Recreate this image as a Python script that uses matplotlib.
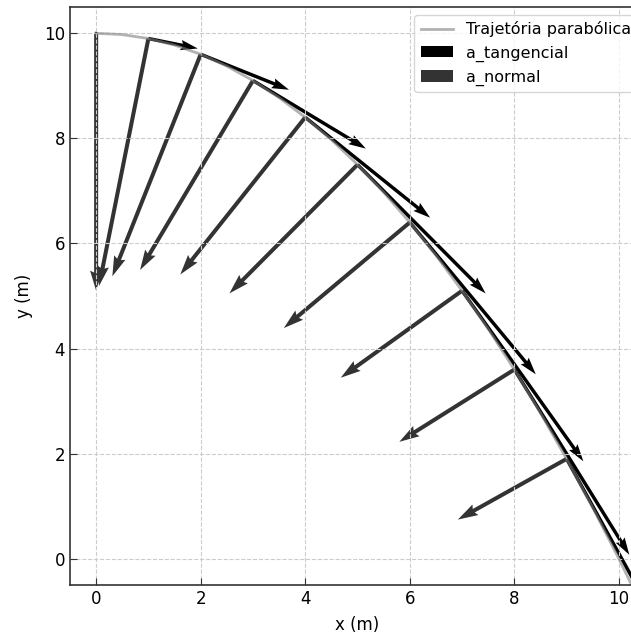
import numpy as np
import matplotlib
matplotlib.use('Agg')
import matplotlib.pyplot as plt

# trajectory (x in m, y in m)
curve_x = [0, 0.5, 1, 1.5, 2, 2.5, 3, 3.5, 4, 4.5, 5, 5.5, 6, 6.5, 7, 7.5, 8, 8.5, 9, 9.5, 10, 10.5]
curve_y = [10, 9.975, 9.9, 9.775, 9.6, 9.375, 9.1, 8.775, 8.4, 7.975, 7.5, 6.975, 6.4, 5.775,
           5.1, 4.375, 3.6, 2.775, 1.9, 0.975, 0, -1.025]

# points where the acceleration is decomposed
pts_x = [0, 1, 2, 3, 4, 5, 6, 7, 8, 9]
pts_y = [10, 9.9, 9.6, 9.1, 8.4, 7.5, 6.4, 5.1, 3.6, 1.9]

# tangential / normal components (m/s^2)
at_x = [0, 1.89, 3.38, 4.32, 4.78, 4.90, 4.82, 4.64, 4.40, 4.16]
at_y = [0, -0.38, -1.35, -2.59, -3.82, -4.90, -5.78, -6.49, -7.05, -7.49]
an_x = [0, -1.89, -3.38, -4.32, -4.78, -4.90, -4.82, -4.64, -4.40, -4.16]
an_y = [-9.8, -9.42, -8.45, -7.21, -5.98, -4.90, -4.02, -3.31, -2.75, -2.31]

plt.rcParams['font.family'] = 'DejaVu Sans'

fig = plt.figure(figsize=(6.31, 6.35), dpi=100)
ax = fig.add_axes([70/631, 50/635, 575/631, 578/635])

ax.plot(curve_x, curve_y, color='gray', alpha=0.6, linewidth=2, label='Trajetória parabólica')
ax.quiver(pts_x, pts_y, at_x, at_y, angles='xy', scale_units='xy', scale=2,
          color='black', width=0.006, label='a_tangencial')
ax.quiver(pts_x, pts_y, an_x, an_y, angles='xy', scale_units='xy', scale=2,
          color='#333333', width=0.007, label='a_normal')

ax.set_xlim(-0.5, 10.5)
ax.set_ylim(-0.5, 10.5)
ax.set_xticks(np.arange(0, 11, 2))
ax.set_yticks(np.arange(0, 11, 2))
ax.grid(True, linestyle='--', color='#cccccc', linewidth=0.8)
ax.tick_params(direction='in', labelsize=12, length=5, color='#333333')
for sp in ax.spines.values():
    sp.set_color('#333333')
    sp.set_linewidth(1.2)

ax.set_xlabel('x (m)', fontsize=12, labelpad=6)
ax.set_ylabel('y (m)', fontsize=12, labelpad=8)
ax.set_title('Decomposição da aceleração na trajetória parabólica', fontsize=15, pad=8)
ax.legend(loc='upper right', fontsize=11.5, borderaxespad=0.5, labelspacing=0.5)

fig.savefig('out.png', dpi=100)
